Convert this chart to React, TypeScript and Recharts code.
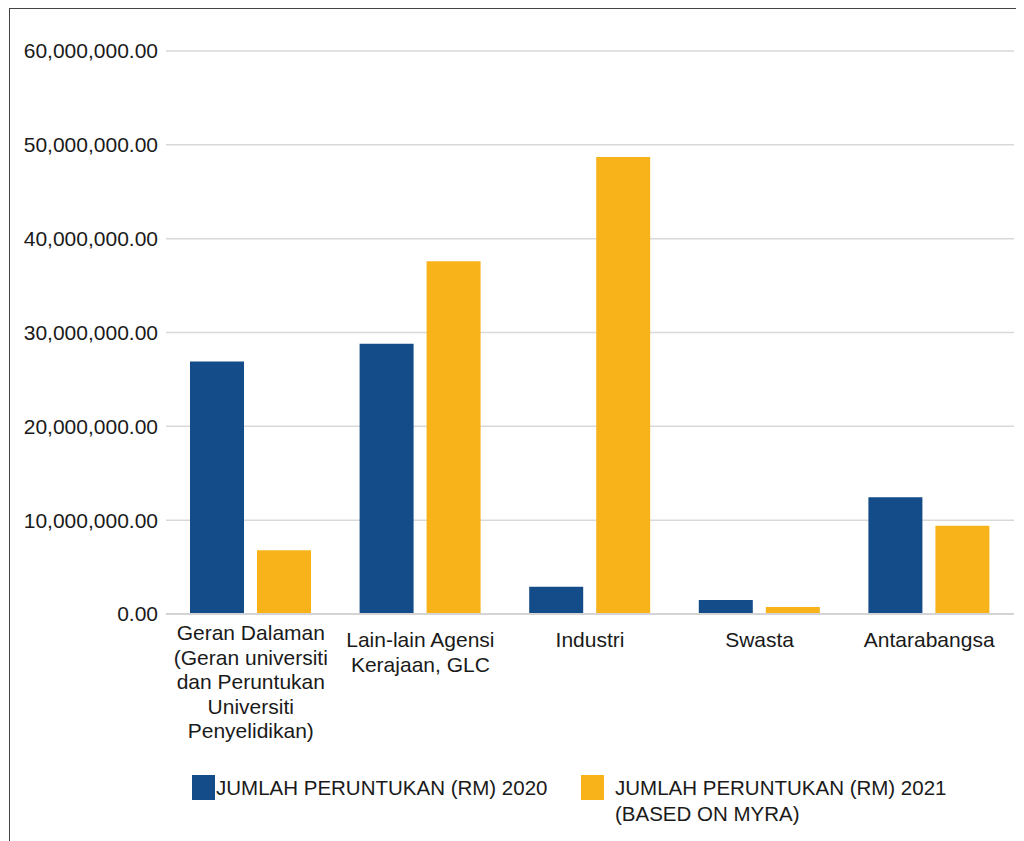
import React from "react";
import { BarChart, Bar, XAxis, YAxis, CartesianGrid, Legend } from "recharts";

const categories = [
  "Geran Dalaman (Geran universiti dan Peruntukan Universiti Penyelidikan)",
  "Lain-lain Agensi Kerajaan, GLC",
  "Industri",
  "Swasta",
  "Antarabangsa",
];
const categoryLines: string[][] = [
  ["Geran Dalaman", "(Geran universiti", "dan Peruntukan", "Universiti", "Penyelidikan)"],
  ["Lain-lain Agensi", "Kerajaan, GLC"],
  ["Industri"],
  ["Swasta"],
  ["Antarabangsa"],
];
const values2020 = [26900000, 28800000, 2900000, 1500000, 12450000];
const values2021 = [6800000, 37600000, 48700000, 750000, 9400000];
const yTicks = [0, 10000000, 20000000, 30000000, 40000000, 50000000, 60000000];
const seriesNames = ["JUMLAH PERUNTUKAN (RM) 2020", "JUMLAH PERUNTUKAN (RM) 2021 (BASED ON MYRA)"];

const BLUE = "#144B89";
const ORANGE = "#F8B31B";
const FONT = "'Liberation Sans', Arial, Helvetica, sans-serif";
const TEXT = "#1a1a1a";

const data = categories.map((c, i) => ({
  name: c,
  v2020: values2020[i],
  v2021: values2021[i],
}));

const fmt = (v: number) =>
  v.toLocaleString("en-US", { minimumFractionDigits: 2, maximumFractionDigits: 2 });

const XTick = (props: any) => {
  const { x, y, index } = props;
  const lines = categoryLines[index] || [];
  const start = lines.length > 2 ? 18 : 25;
  return (
    <g>
      {lines.map((l, i) => (
        <text
          key={i}
          x={x}
          y={y + start + i * 24.5}
          textAnchor="middle"
          fill={TEXT}
          fontFamily={FONT}
          fontSize={21}
        >
          {l}
        </text>
      ))}
    </g>
  );
};

const LegendContent = () => (
  <div style={{ position: "relative", height: 60, fontFamily: FONT, fontSize: 20.5, color: TEXT }}>
    <div style={{ position: "absolute", left: 182, top: 31, width: 23, height: 25, background: BLUE }} />
    <div style={{ position: "absolute", left: 206, top: 31, lineHeight: "26px", whiteSpace: "nowrap" }}>
      {seriesNames[0]}
    </div>
    <div style={{ position: "absolute", left: 571, top: 31, width: 23, height: 25, background: ORANGE }} />
    <div style={{ position: "absolute", left: 605, top: 31, lineHeight: "26px", whiteSpace: "nowrap" }}>
      JUMLAH PERUNTUKAN (RM) 2021
      <br />
      (BASED ON MYRA)
    </div>
  </div>
);

export default function App() {
  return (
    <div
      style={{
        width: 1015,
        height: 832,
        borderLeft: "1px solid #444",
        borderTop: "1px solid #444",
        background: "#fff",
        marginLeft: 1,
      }}
    >
      <BarChart
        width={1015}
        height={832}
        data={data}
        margin={{ top: 42, right: 11, left: 0, bottom: 37 }}
        barGap={13}
        barCategoryGap={23}
      >
        <CartesianGrid vertical={false} stroke="#d9d9d9" strokeWidth={1.5} />
        <XAxis
          dataKey="name"
          interval={0}
          height={130}
          tickLine={false}
          axisLine={{ stroke: "#d4d4d4", strokeWidth: 2 }}
          tick={<XTick />}
        />
        <YAxis
          width={156}
          domain={[0, 60000000]}
          ticks={yTicks}
          tickFormatter={fmt}
          axisLine={false}
          tickLine={false}
          tick={{ fill: TEXT, fontFamily: FONT, fontSize: 21 }}
        />
        <Legend verticalAlign="bottom" height={60} wrapperStyle={{ left: 0, width: 1015 }} content={<LegendContent />} />
        <Bar dataKey="v2020" name={seriesNames[0]} fill={BLUE} barSize={54} isAnimationActive={false} />
        <Bar dataKey="v2021" name={seriesNames[1]} fill={ORANGE} barSize={54} isAnimationActive={false} />
      </BarChart>
    </div>
  );
}
